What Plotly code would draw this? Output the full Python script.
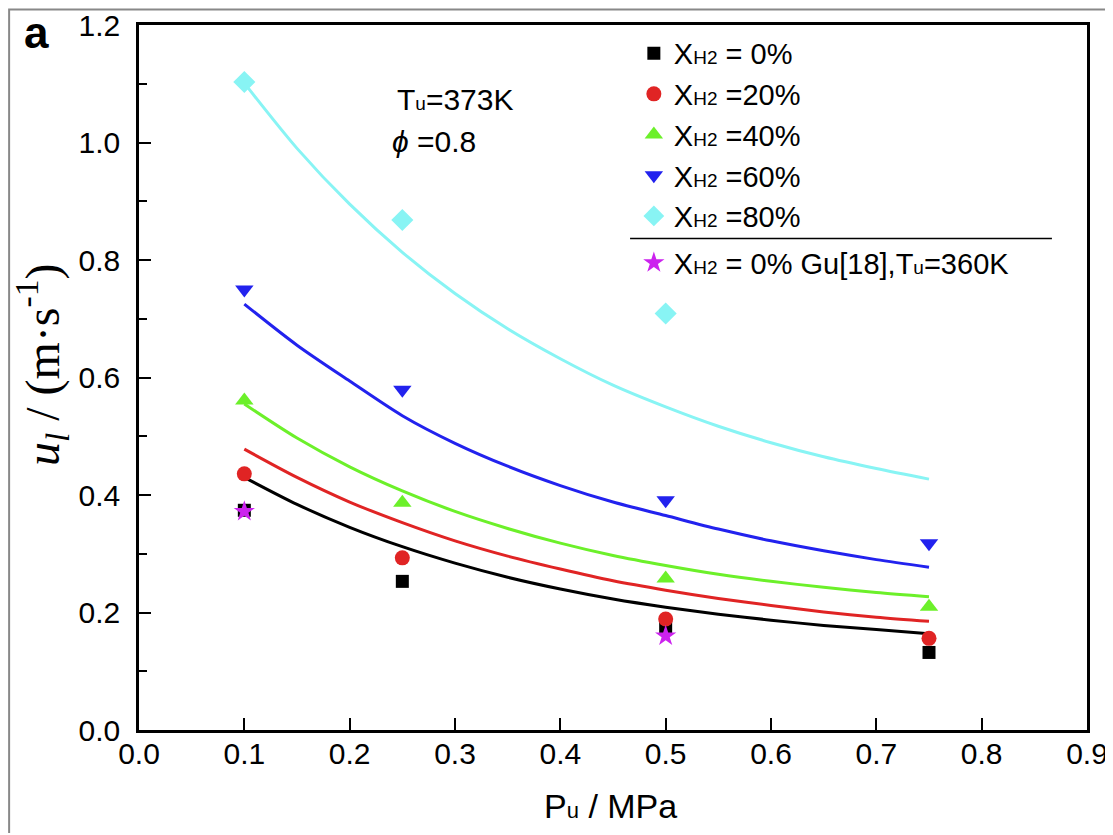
import plotly.graph_objects as go

# ---- measured data points ----
p_meas = [0.1, 0.25, 0.5, 0.75]
u_h0 = [0.374, 0.253, 0.175, 0.132]
u_h20 = [0.436, 0.293, 0.189, 0.156]
u_h40 = [0.561, 0.387, 0.258, 0.210]
u_h60 = [0.750, 0.579, 0.391, 0.318]
p_h80 = [0.1, 0.25, 0.5]
u_h80 = [1.103, 0.868, 0.709]
p_gu = [0.1, 0.5]
u_gu = [0.372, 0.160]

# ---- fitted curves ----
p_fit = [0.10, 0.15, 0.20, 0.25, 0.30, 0.35, 0.40, 0.45, 0.50, 0.55, 0.60, 0.65, 0.70, 0.75]
fit_h0 = [0.430, 0.384, 0.345, 0.312, 0.284, 0.260, 0.240, 0.223, 0.209, 0.197, 0.187, 0.178, 0.171, 0.164]
fit_h20 = [0.478, 0.430, 0.388, 0.353, 0.322, 0.296, 0.274, 0.254, 0.238, 0.224, 0.212, 0.201, 0.192, 0.185]
fit_h40 = [0.555, 0.497, 0.448, 0.407, 0.372, 0.343, 0.318, 0.297, 0.280, 0.265, 0.253, 0.243, 0.234, 0.227]
fit_h60 = [0.725, 0.655, 0.594, 0.535, 0.488, 0.449, 0.416, 0.388, 0.365, 0.342, 0.322, 0.305, 0.290, 0.277]
fit_h80 = [1.101, 0.990, 0.895, 0.813, 0.743, 0.683, 0.632, 0.587, 0.550, 0.517, 0.489, 0.465, 0.445, 0.427]

C_BLACK = "#000000"
C_RED = "#e02424"
C_GREEN = "#6cf02a"
C_BLUE = "#2222ee"
C_CYAN = "#88f4f4"
C_MAG = "#cc22ee"

SANS = "Liberation Sans, Arial, sans-serif"
SERIF = "Liberation Serif, Times New Roman, serif"

fig = go.Figure()

for y, c in [(fit_h0, C_BLACK), (fit_h20, C_RED), (fit_h40, C_GREEN),
             (fit_h60, C_BLUE), (fit_h80, C_CYAN)]:
    fig.add_trace(go.Scatter(x=p_fit, y=y, mode="lines", showlegend=False,
                             line=dict(color=c, width=3, shape="spline", smoothing=0.8),
                             hoverinfo="skip"))

def lab(s):
    return "X<span style='font-size:19px'>H2</span> " + s

series = [
    (p_meas, u_h0, C_BLACK, "square", 13, lab("= 0%"), "g1"),
    (p_meas, u_h20, C_RED, "circle", 15, lab("=20%"), "g1"),
    (p_meas, u_h40, C_GREEN, "triangle-up", 16, lab("=40%"), "g1"),
    (p_meas, u_h60, C_BLUE, "triangle-down", 16, lab("=60%"), "g1"),
    (p_h80, u_h80, C_CYAN, "diamond", 17, lab("=80%"), "g1"),
    (p_gu, u_gu, C_MAG, "star", 16,
     lab("= 0% Gu[18],T<span style='font-size:19px'>u</span>=360K"), "g2"),
]
for x, y, c, sym, sz, name, grp in series:
    fig.add_trace(go.Scatter(x=x, y=y, mode="markers", name=name, legendgroup=grp,
                             marker=dict(color=c, symbol=sym, size=sz, line=dict(width=0))))

fig.update_layout(
    width=1105, height=825,
    margin=dict(l=131, r=26, t=17, b=103, autoexpand=False),
    paper_bgcolor="white", plot_bgcolor="white",
    font=dict(family=SANS, color="black", size=28),
    legend=dict(x=0.522, y=0.996, xanchor="left", yanchor="top",
                bgcolor="rgba(0,0,0,0)", font=dict(size=29),
                traceorder="grouped", tracegroupgap=6, itemwidth=30),
    showlegend=True,
)

fig.update_xaxes(range=[0, 0.9], tickvals=[0, 0.1, 0.2, 0.3, 0.4, 0.5, 0.6, 0.7, 0.8, 0.9],
                 ticktext=["0.0", "0.1", "0.2", "0.3", "0.4", "0.5", "0.6", "0.7", "0.8", "0.9"],
                 ticks="inside", ticklen=12, tickwidth=2, tickcolor="black",
                 showline=True, linewidth=2.5, linecolor="black", mirror=True,
                 showgrid=False, zeroline=False, tickfont=dict(size=30),
                 ticklabelstandoff=-5, automargin=False)
fig.update_yaxes(range=[0, 1.2], tickvals=[0, 0.2, 0.4, 0.6, 0.8, 1.0, 1.2],
                 ticktext=["0.0", "0.2", "0.4", "0.6", "0.8", "1.0", "1.2"],
                 ticks="inside", ticklen=12, tickwidth=2, tickcolor="black",
                 minor=dict(ticks="inside", tickvals=[0.1, 0.3, 0.5, 0.7, 0.9, 1.1],
                            ticklen=8, tickwidth=2, tickcolor="black"),
                 showline=True, linewidth=2.5, linecolor="black", mirror=True,
                 showgrid=False, zeroline=False, tickfont=dict(size=30),
                 ticklabelstandoff=10, automargin=False)

# axis titles
fig.add_annotation(xref="paper", yref="paper", x=0.497, y=-0.108, xanchor="center", yanchor="middle",
                   text="P<span style='font-size:22px'>u</span> / MPa", showarrow=False,
                   font=dict(size=34, family=SANS))
fig.add_annotation(xref="paper", yref="paper", x=-0.102, y=0.518, xanchor="center", yanchor="middle",
                   textangle=-90,
                   text="<i>u</i><sub><i>l</i></sub> / (m·s<sup>-1</sup>)", showarrow=False,
                   font=dict(size=48, family=SERIF))

# separator line in legend
fig.add_shape(type="line", xref="paper", yref="paper", x0=0.518, x1=0.963, y0=0.697, y1=0.697,
              line=dict(color="black", width=1.5))

# outer gray frame
fig.add_shape(type="rect", xref="paper", yref="paper", x0=-0.137, x1=1.021, y0=-0.3, y1=1.022,
              line=dict(color="#888888", width=2), fillcolor="rgba(0,0,0,0)", layer="below")

fig.add_annotation(xref="paper", yref="paper", x=-0.108, y=0.99, xanchor="center", yanchor="middle",
                   text="<b>a</b>", showarrow=False, font=dict(size=44))
fig.add_annotation(xref="paper", yref="paper", x=0.27, y=0.894, xanchor="left", yanchor="middle",
                   text="T<span style='font-size:19px'>u</span>=373K", showarrow=False,
                   font=dict(size=30))
fig.add_annotation(xref="paper", yref="paper", x=0.265, y=0.835, xanchor="left", yanchor="middle",
                   text="<i>ϕ</i> =0.8", showarrow=False, font=dict(size=30))

fig.write_html("out.html")
